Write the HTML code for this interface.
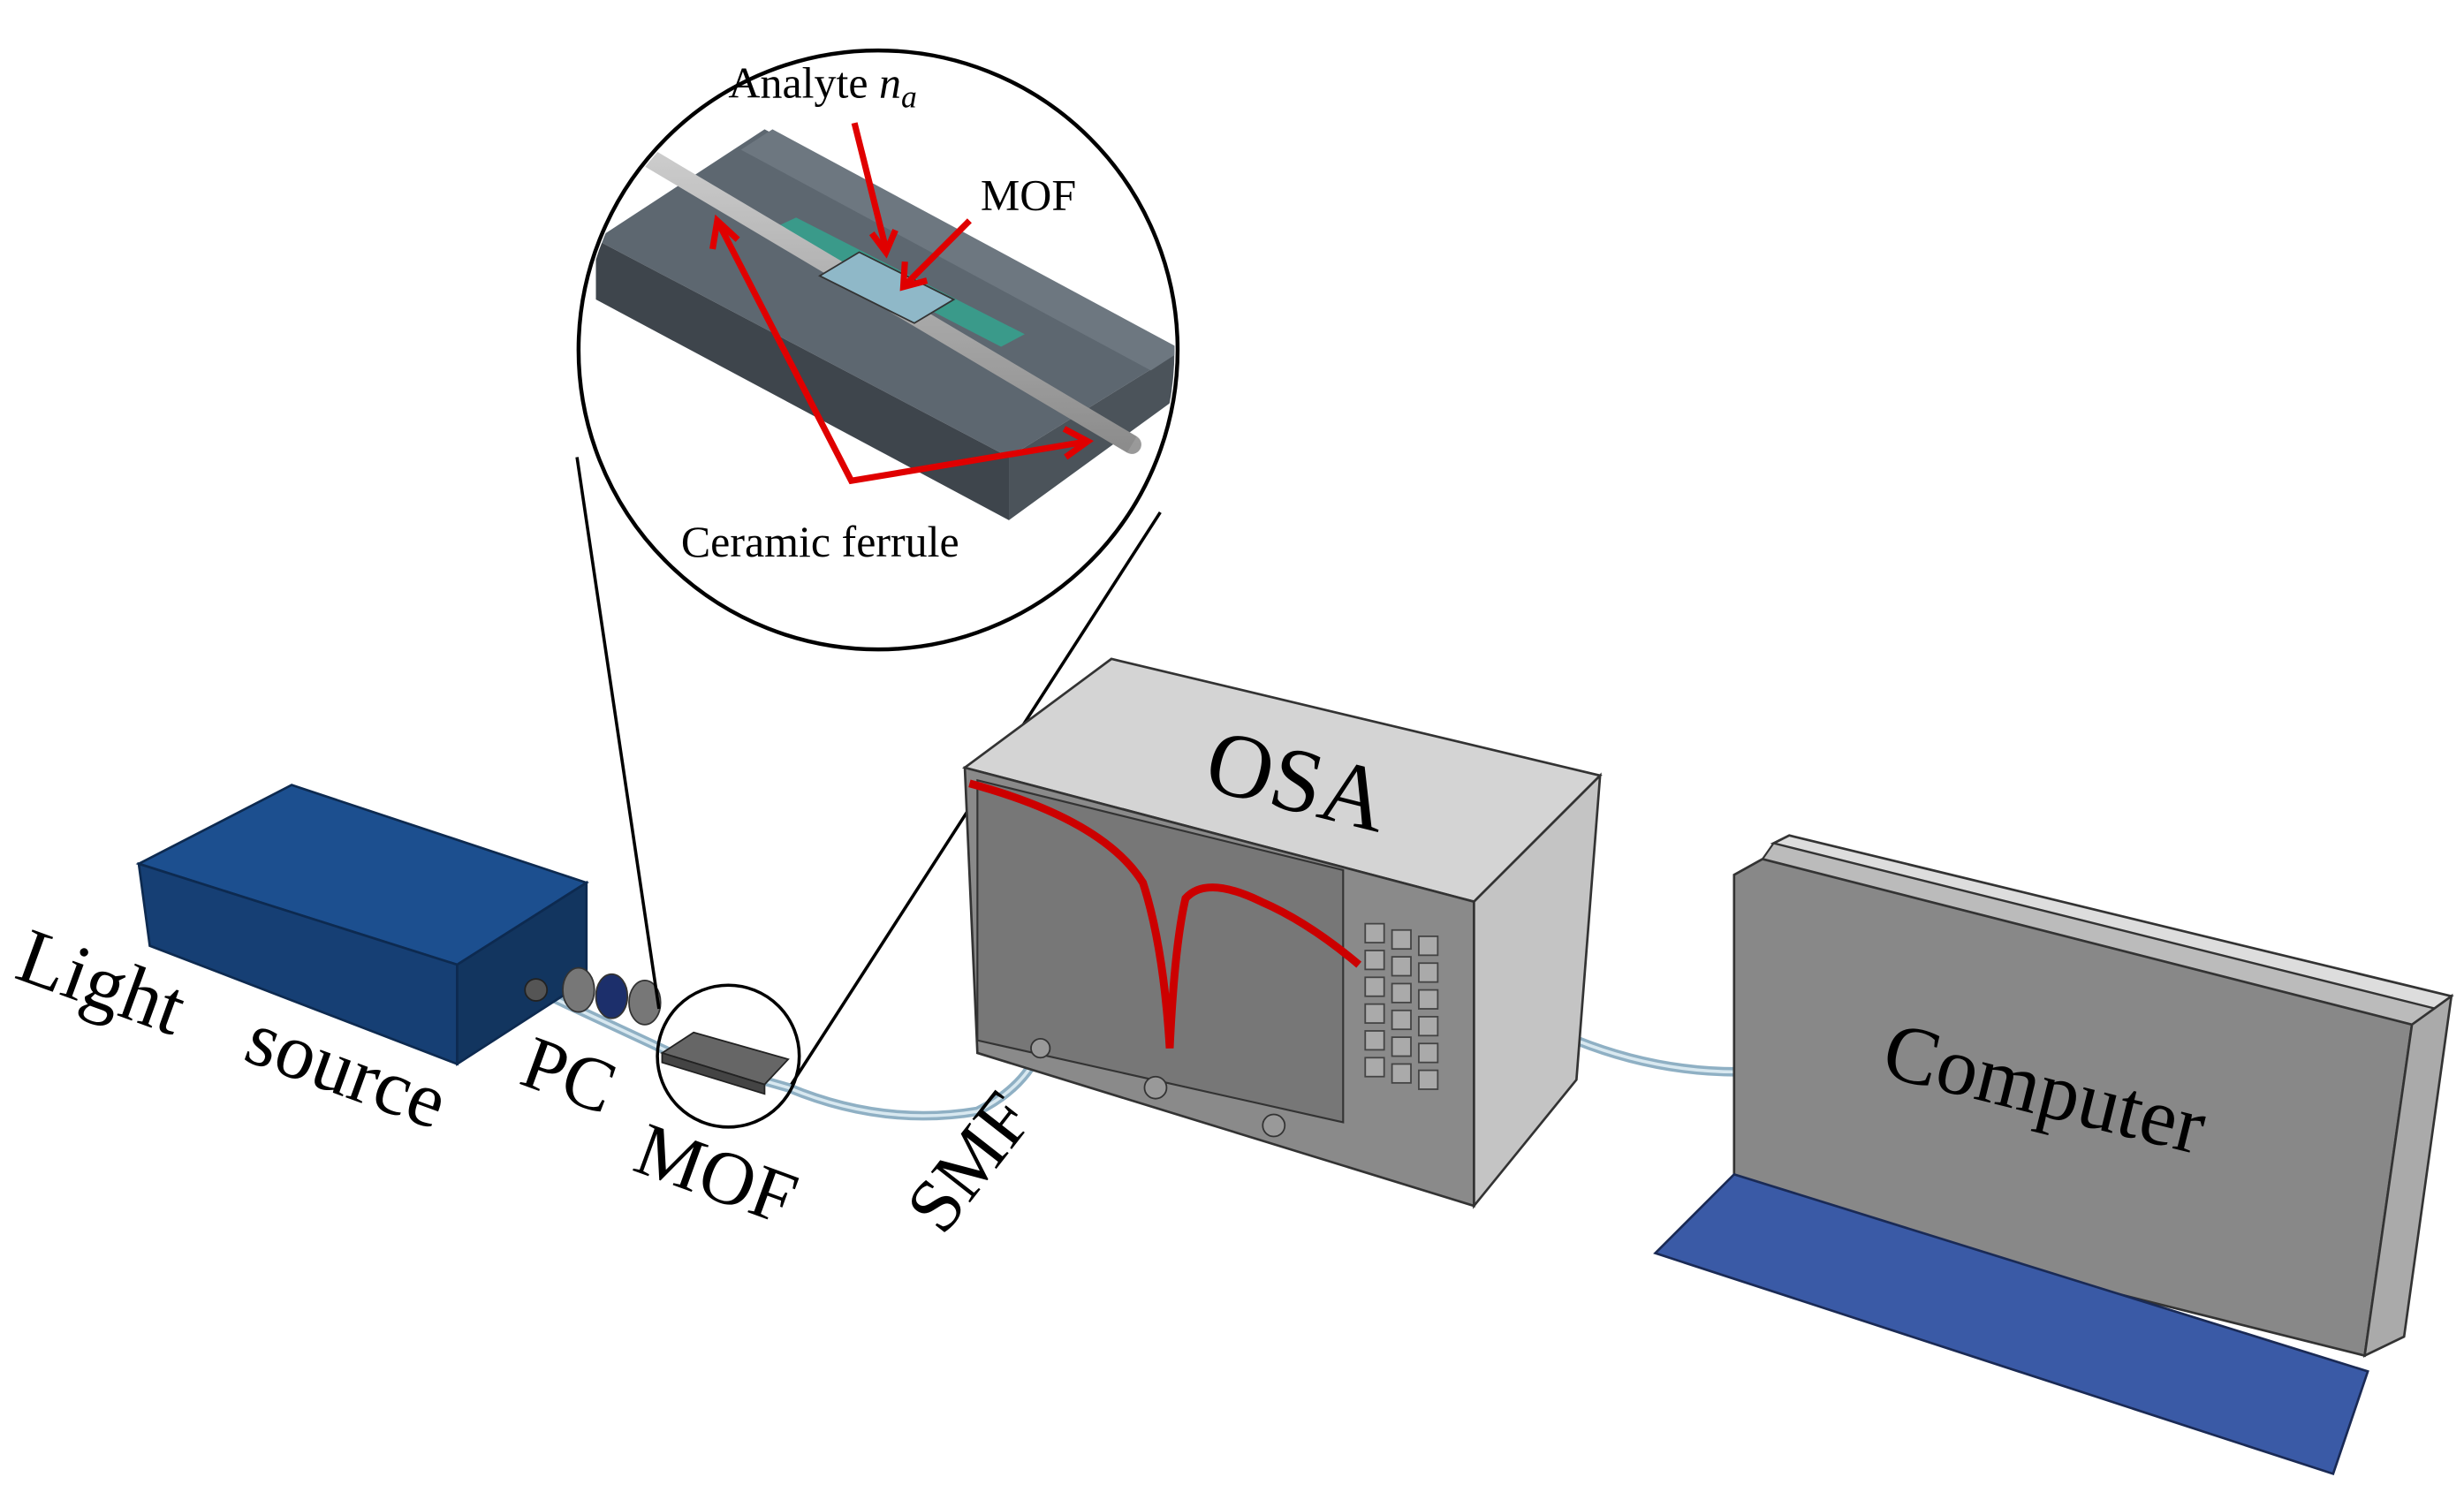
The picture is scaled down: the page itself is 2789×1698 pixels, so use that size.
<!DOCTYPE html>
<html><head><meta charset="utf-8"><style>
html,body{margin:0;padding:0;background:#fff;}
svg{display:block;}
text{font-family:"Liberation Serif",serif;fill:#000;}
</style></head><body>
<svg width="2789" height="1698" viewBox="0 0 1563 951.6" xmlns="http://www.w3.org/2000/svg">
<defs>
<linearGradient id="rod" x1="0" y1="0" x2="0" y2="1"><stop offset="0" stop-color="#eee"/><stop offset="1" stop-color="#999"/></linearGradient>
<clipPath id="cc"><circle cx="557" cy="222" r="188"/></clipPath>
</defs>
<!-- fiber cables -->
<path d="M340 628 L430 670 L500 690 Q560 715 620 705 Q650 690 660 665" fill="none" stroke="#8fb0c4" stroke-width="6"/>
<path d="M340 628 L430 670 L500 690 Q560 715 620 705 Q650 690 660 665" fill="none" stroke="#d8e8f0" stroke-width="2"/>
<path d="M1000 660 Q1050 680 1102 680" fill="none" stroke="#8fb0c4" stroke-width="6"/>
<path d="M1000 660 Q1050 680 1102 680" fill="none" stroke="#d8e8f0" stroke-width="2"/>

<!-- Light source box -->
<polygon points="88,548 185,498 372,560 290,612" fill="#1c4f8f" stroke="#0d2a50" stroke-width="1.5"/>
<polygon points="88,548 290,612 290,675 95,600" fill="#163f74" stroke="#0d2a50" stroke-width="1.5"/>
<polygon points="290,612 372,560 372,622 290,675" fill="#12355f" stroke="#0d2a50" stroke-width="1.5"/>
<circle cx="340" cy="628" r="7" fill="#555" stroke="#222"/>
<ellipse cx="367" cy="628" rx="10" ry="14" fill="#777" stroke="#333"/>
<ellipse cx="388" cy="632" rx="10" ry="14" fill="#1c2f6b" stroke="#333"/>
<ellipse cx="409" cy="636" rx="10" ry="14" fill="#777" stroke="#333"/>
<polygon points="420,668 440,655 500,672 485,688" fill="#666" stroke="#222"/>
<polygon points="420,668 485,688 485,694 420,674" fill="#444" stroke="#222"/>
<circle cx="462" cy="670" r="45" fill="none" stroke="#000" stroke-width="2"/>
<line x1="366" y1="290" x2="418" y2="640" stroke="#000" stroke-width="2"/>
<line x1="736" y1="325" x2="502" y2="688" stroke="#000" stroke-width="2"/>

<!-- Inset circle -->
<circle cx="557" cy="222" r="190" fill="#fff"/>
<g clip-path="url(#cc)">
<polygon points="378,152 485,82 750,222 640,290" fill="#5d6770"/>
<polygon points="378,152 640,290 640,330 378,190" fill="#3e454c"/>
<polygon points="640,290 750,222 750,250 640,330" fill="#4b535a"/>
<polygon points="470,95 490,82 750,222 730,235" fill="#6d7780"/>
<polygon points="490,145 505,138 650,212 635,220" fill="#3a9a8a"/>
<line x1="408" y1="98" x2="718" y2="282" stroke="url(#rod)" stroke-width="12" stroke-linecap="round"/>
<line x1="408" y1="98" x2="718" y2="282" stroke="#666" stroke-width="12" stroke-opacity="0.25"/>
<polygon points="520,175 545,160 605,190 580,205" fill="#8fb8c8" stroke="#333" stroke-width="1"/>
</g>
<circle cx="557" cy="222" r="190" fill="none" stroke="#000" stroke-width="2.5"/>
<g stroke="#e00000" stroke-width="4" fill="none">
<line x1="542" y1="78" x2="562" y2="158"/>
<polyline points="553,148 562,160 568,146"/>
<line x1="615" y1="140" x2="575" y2="180"/>
<polyline points="574,166 573,182 588,178"/>
<polyline points="455,140 540,305 690,280"/>
<polyline points="452,158 455,140 468,152"/>
<polyline points="675,272 690,280 676,290"/>
</g>
<text x="462" y="62" font-size="28">Analyte <tspan font-style="italic">n</tspan><tspan font-style="italic" font-size="20" dy="6">a</tspan></text>
<text x="622" y="133" font-size="28">MOF</text>
<text x="432" y="353" font-size="28">Ceramic ferrule</text>

<!-- OSA -->
<polygon points="612,487 705,418 1015,492 935,572" fill="#d4d4d4" stroke="#333" stroke-width="1.5"/>
<polygon points="612,487 935,572 935,765 620,668" fill="#8a8a8a" stroke="#333" stroke-width="1.5"/>
<polygon points="935,572 1015,492 1000,685 935,765" fill="#c4c4c4" stroke="#333" stroke-width="1.5"/>
<polygon points="620,495 852,552 852,712 620,660" fill="#777" stroke="#333" stroke-width="1.2"/>
<path d="M615 497 Q700 520 725 560 Q738 600 742 665 Q745 600 752 570 Q765 555 800 572 Q830 585 862 612" fill="none" stroke="#cc0000" stroke-width="5"/>
<g fill="#aaa" stroke="#444" stroke-width="1">
<rect x="866" y="586" width="12" height="12"/><rect x="883" y="590" width="12" height="12"/><rect x="900" y="594" width="12" height="12"/>
<rect x="866" y="603" width="12" height="12"/><rect x="883" y="607" width="12" height="12"/><rect x="900" y="611" width="12" height="12"/>
<rect x="866" y="620" width="12" height="12"/><rect x="883" y="624" width="12" height="12"/><rect x="900" y="628" width="12" height="12"/>
<rect x="866" y="637" width="12" height="12"/><rect x="883" y="641" width="12" height="12"/><rect x="900" y="645" width="12" height="12"/>
<rect x="866" y="654" width="12" height="12"/><rect x="883" y="658" width="12" height="12"/><rect x="900" y="662" width="12" height="12"/>
<rect x="866" y="671" width="12" height="12"/><rect x="883" y="675" width="12" height="12"/><rect x="900" y="679" width="12" height="12"/>
</g>
<circle cx="660" cy="665" r="6" fill="#999" stroke="#333"/>
<circle cx="733" cy="690" r="7" fill="#999" stroke="#333"/>
<circle cx="808" cy="714" r="7" fill="#999" stroke="#333"/>
<text x="0" y="0" font-size="58" transform="translate(762,500) rotate(14)">OSA</text>

<!-- Computer -->
<polygon points="1125,535 1135,530 1555,632 1545,640" fill="#ddd" stroke="#333" stroke-width="1.5"/>
<polygon points="1118,545 1125,535 1545,640 1530,650" fill="#bbb" stroke="#333" stroke-width="1.2"/>
<polygon points="1100,555 1118,545 1530,650 1500,860 1100,760" fill="#888" stroke="#333" stroke-width="1.5"/>
<polygon points="1530,650 1555,632 1525,848 1500,860" fill="#aaa" stroke="#333" stroke-width="1.5"/>
<polygon points="1050,795 1100,745 1502,870 1480,935" fill="#3a5aa6" stroke="#1a2a55" stroke-width="1.5"/>
<text x="0" y="0" font-size="52" transform="translate(1192,682) rotate(14)">Computer</text>

<!-- labels -->
<text x="0" y="0" font-size="50" transform="translate(8,620) rotate(20)">Light</text>
<text x="0" y="0" font-size="50" transform="translate(153,672) rotate(20)">source</text>
<text x="0" y="0" font-size="48" transform="translate(328,687) rotate(20)">PC</text>
<text x="0" y="0" font-size="48" transform="translate(400,742) rotate(20)">MOF</text>
<text x="0" y="0" font-size="48" transform="translate(598,785) rotate(-52)">SMF</text>
</svg>
</body></html>
